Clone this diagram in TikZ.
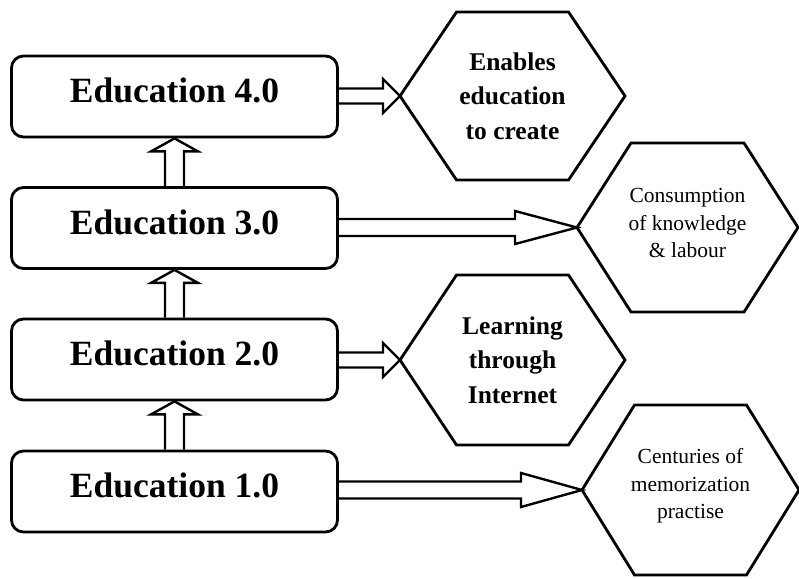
\documentclass[tikz,border=0pt]{standalone}
\usepackage{fontspec}
\setmainfont{Liberation Serif}
\usetikzlibrary{calc}

% Hexagon around a point: #1 node or coordinate name, #2 half width (to the side vertices),
% #3 half length of the flat top/bottom edges, #4 half height.
% Also defines the coordinate (#1-w) at the left vertex.
\newcommand\hexaround[4]{%
  \draw[hexline] ($(#1.center)+(-#2,0)$) -- ($(#1.center)+(-#3,-#4)$)
    -- ($(#1.center)+(#3,-#4)$) -- ($(#1.center)+(#2,0)$)
    -- ($(#1.center)+(#3,#4)$) -- ($(#1.center)+(-#3,#4)$) -- cycle;
  \coordinate (#1-w) at ($(#1.center)+(-#2,0)$);}

% Hollow horizontal arrow from node side #1 to tip #2:
% #3 half shaft width, #4 half head width, #5 head length.
\newcommand\sidearrow[5]{%
  \draw[hollow] ($(#1 |- #2)+(0,-#3)$) -- ($(#2)+(-#5,-#3)$) -- ($(#2)+(-#5,-#4)$)
    -- (#2) -- ($(#2)+(-#5,#4)$) -- ($(#2)+(-#5,#3)$) -- ($(#1 |- #2)+(0,#3)$);}

% Hollow upward arrow from the top of box #1 to the bottom of box #2.
\newcommand\stagearrow[2]{%
  \draw[hollow] ($(#1.north)+(-9.5,0)$) -- ($(#2.south)+(-9.5,13)$)
    -- ($(#2.south)+(-23.5,13)$) -- (#2.south) -- ($(#2.south)+(23.5,13)$)
    -- ($(#2.south)+(9.5,13)$) -- ($(#1.north)+(9.5,0)$);}

\begin{document}
\begin{tikzpicture}[x=1pt,y=-1pt,
  edubox/.style={draw, line width=2.8pt, rounded corners=12pt,
    minimum width=326pt, minimum height=81pt, inner sep=0pt,
    font=\fontsize{35.5}{40}\selectfont\bfseries, text depth=12pt},
  hexline/.style={draw, line width=2.8pt, line join=miter},
  bigtext/.style={align=center, inner sep=0pt, font=\fontsize{25.5}{34.5}\selectfont\bfseries},
  smalltext/.style={align=center, inner sep=0pt, font=\fontsize{21.5}{27.5}\selectfont},
  hollow/.style={draw, line width=2.4pt, line join=miter}
]
\useasboundingbox (0,0) rectangle (799,578);

% stages
\node[edubox] (e4) at (174.5, 96.5) {Education 4.0};
\node[edubox] (e3) at (174.5, 228)  {Education 3.0};
\node[edubox] (e2) at (174.5, 359.5) {Education 2.0};
\node[edubox] (e1) at (174.5, 491.5) {Education 1.0};

% outcomes: hexagon centres and their texts
\coordinate (h1) at (512.5, 96);
\coordinate (h2) at (687.5, 227.5);
\coordinate (h3) at (512.5, 360);
\coordinate (h4) at (690.5, 490);

\node[bigtext]   (t1) at (512.5, 96)  {Enables\\education\\to create};
\node[smalltext] (t2) at (687.5, 223) {Consumption\\of knowledge\\\& labour};
\node[bigtext]   (t3) at (512.5, 360) {Learning\\through\\Internet};
\node[smalltext] (t4) at (690.5, 486) {Centuries of\\memorization\\practise};

\hexaround{h1}{112.5}{56}{84}
\hexaround{h2}{110.5}{56.5}{84.5}
\hexaround{h3}{112.5}{56}{85}
\hexaround{h4}{108.5}{56}{85}

% progression between stages
\stagearrow{e3}{e4}
\stagearrow{e2}{e3}
\stagearrow{e1}{e2}

% stage to outcome
\sidearrow{e4.east}{h1-w}{7.5}{17}{17}
\sidearrow{e3.east}{h2-w}{8.5}{16.5}{62}
\sidearrow{e2.east}{h3-w}{7.5}{17}{17}
\sidearrow{e1.east}{h4-w}{8.5}{17}{61}
\end{tikzpicture}
\end{document}
